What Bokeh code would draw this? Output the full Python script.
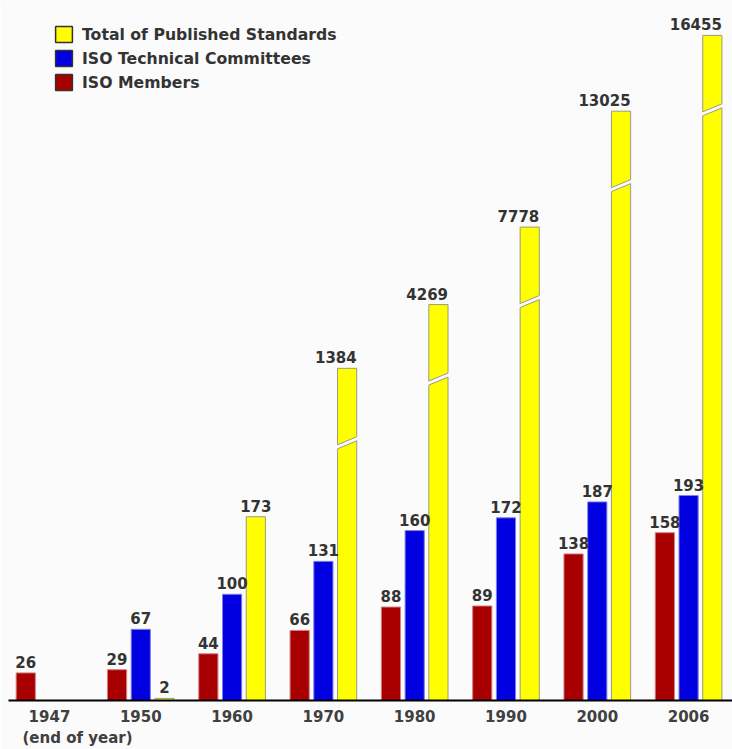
from bokeh.plotting import figure
from bokeh.models import ColumnDataSource, FixedTicker, Legend, LegendItem, Title, Range1d
from bokeh.embed import file_html
from bokeh.resources import INLINE
from bokeh.core.properties import value

# ---------------- data ----------------
years = ["1947", "1950", "1960", "1970", "1980", "1990", "2000", "2006"]
members = [26, 29, 44, 66, 88, 89, 138, 158]
committees = [None, 67, 100, 131, 160, 172, 187, 193]
standards = [None, 2, 173, 1384, 4269, 7778, 13025, 16455]

# ---------------- broken value axis ----------------
BREAK_AT = 290      # values above this are compressed (broken axis)
COMPRESS = 0.0208


def shown(v):
    return v if v <= BREAK_AT else BREAK_AT + (v - BREAK_AT) * COMPRESS


BAR_W = 0.21
OFF_MEM, OFF_TC, OFF_STD = -0.26, 0.0, 0.26
FONT_NAME = "DejaVu Sans"
FONT = value(FONT_NAME)
TXT = "#333333"


def series_source(vals, off, keep=lambda v: True, label_shift=0.0):
    xs, tops, labels, lx = [], [], [], []
    for i, v in enumerate(vals):
        if v is None or not keep(v):
            continue
        xs.append(i + off)
        lx.append(i + off + label_shift)
        tops.append(shown(v))
        labels.append(str(v))
    return ColumnDataSource(dict(x=xs, lx=lx, top=tops, label=labels))


p = figure(width=732, height=749, x_range=Range1d(-0.449, 7.481), y_range=Range1d(0, 659.1),
           output_backend="svg", toolbar_location=None, y_axis_location=None,
           min_border_left=8, min_border_right=0, min_border_top=0, min_border_bottom=49)
p.background_fill_color = "#fbfbfb"
p.border_fill_color = "#fbfbfb"
p.outline_line_color = None
p.xgrid.visible = False
p.ygrid.visible = False

src_mem = series_source(members, OFF_MEM)
src_tc = series_source(committees, OFF_TC)
src_std = series_source(standards, OFF_STD)
src_std_lo = series_source(standards, OFF_STD, keep=lambda v: v <= BREAK_AT)
src_std_hi = series_source(standards, OFF_STD, keep=lambda v: v > BREAK_AT,
                           label_shift=BAR_W / 2)

MEM_C, TC_C, STD_C = "#a80000", "#0000e0", "#ffff00"

p.vbar(x="x", top="top", width=BAR_W, bottom=0, source=src_mem,
       fill_color=MEM_C, line_color="#d08080", line_width=1)
p.vbar(x="x", top="top", width=BAR_W, bottom=0, source=src_tc,
       fill_color=TC_C, line_color="#8080e8", line_width=1)
p.vbar(x="x", top="top", width=BAR_W, bottom=0, source=src_std,
       fill_color=STD_C, line_color="#9a9a80", line_width=1)

# break marks on the compressed bars
BREAK_DROP = 72
SLANT = 7.5
GAP = 3.8
EXT = 0.012
bx, by, e1x, e1y, e2x, e2y = [], [], [], [], [], []
for i, v in enumerate(standards):
    if v is None or v <= BREAK_AT:
        continue
    xc = i + OFF_STD
    yb = shown(v) - BREAK_DROP
    hw = BAR_W / 2 + EXT
    k = SLANT / BAR_W
    bx.append([xc - hw, xc + hw, xc + hw, xc - hw])
    by.append([yb - k * hw, yb + k * hw, yb + k * hw + GAP, yb - k * hw + GAP])
    e1x.append([xc - BAR_W / 2, xc + BAR_W / 2])
    e1y.append([yb - SLANT / 2, yb + SLANT / 2])
    e2x.append([xc - BAR_W / 2, xc + BAR_W / 2])
    e2y.append([yb - SLANT / 2 + GAP, yb + SLANT / 2 + GAP])
p.patches(xs=bx, ys=by, fill_color="#fbfbfb", line_color=None)
p.multi_line(xs=e1x + e2x, ys=e1y + e2y, line_color="#9a9a80", line_width=1)

# value labels
for src, align in ((src_mem, "center"), (src_tc, "center"),
                   (src_std_lo, "center"), (src_std_hi, "right")):
    p.text(x="lx", y="top", text="label", source=src, text_align=align,
           text_baseline="bottom", y_offset=-5, text_font=FONT,
           text_font_style="bold", text_font_size="15px", text_color=TXT)

# legend (swatches with dark outline)
nan = float("nan")
lg = {}
for key, col in (("std", STD_C), ("tc", TC_C), ("mem", MEM_C)):
    lg[key] = p.vbar(x="x", top="top", width=BAR_W,
                     source=ColumnDataSource(dict(x=[nan], top=[nan])),
                     fill_color=col, line_color="#333333", line_width=1.5)
legend = Legend(items=[LegendItem(label="Total of Published Standards", renderers=[lg["std"]]),
                       LegendItem(label="ISO Technical Committees", renderers=[lg["tc"]]),
                       LegendItem(label="ISO Members", renderers=[lg["mem"]])],
                location=(45, 608))
legend.border_line_color = None
legend.background_fill_alpha = 0
legend.padding = 0
legend.margin = 0
legend.spacing = 4
legend.glyph_width = 21
legend.glyph_height = 20
legend.label_height = 16
legend.label_standoff = 8
legend.label_text_font = FONT_NAME
legend.label_text_font_style = "bold"
legend.label_text_font_size = "15.7px"
legend.label_text_color = TXT
p.add_layout(legend)

# x axis
ax = p.xaxis[0]
ax.ticker = FixedTicker(ticks=list(range(len(years))))
ax.major_label_overrides = {i: y for i, y in enumerate(years)}
ax.major_tick_line_color = None
ax.minor_tick_line_color = None
ax.axis_line_color = "black"
ax.axis_line_width = 2
ax.major_label_standoff = 3
ax.major_label_text_font = FONT_NAME
ax.major_label_text_font_style = "bold"
ax.major_label_text_font_size = "15px"
ax.major_label_text_color = "#404040"

note = Title(text="(end of year)", align="left", offset=14, standoff=5,
             text_font=FONT_NAME, text_font_style="bold", text_font_size="15px",
             text_color="#404040")
p.add_layout(note, "below")

open("out.html", "w").write(file_html(p, INLINE))
